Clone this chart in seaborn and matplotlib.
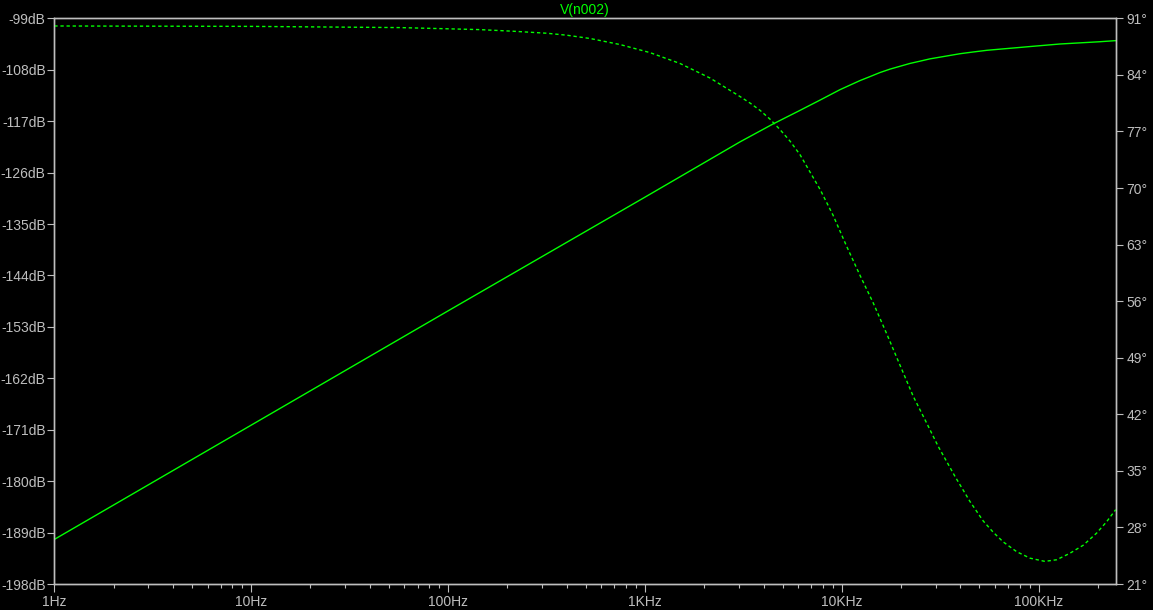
import numpy as np
import pandas as pd
import matplotlib
matplotlib.use("Agg")
import matplotlib.pyplot as plt
import seaborn as sns

# AC sweep of V(n002): magnitude (dB, solid) and phase (deg, dotted)
mag_freq = [1, 10, 100, 1000, 3048, 4467, 6138, 7762, 9772, 10990, 12360, 13900,
            15600, 17540, 19720, 22180, 24950, 28000, 31480, 35400, 39810, 46340,
            54580, 63530, 80170, 93330, 127900, 204200, 247700]
mag_db = [-190.2, -170.2, -150.2, -130.3, -120.6, -117.5, -115.1, -113.3, -111.5,
          -110.7, -109.9, -109.2, -108.5, -107.9, -107.4, -106.9, -106.5, -106.1,
          -105.8, -105.5, -105.2, -104.9, -104.6, -104.4, -104.1, -103.9, -103.5,
          -103.1, -102.9]

ph_freq = [1, 10, 57, 145, 214, 318, 403, 527, 748, 1062, 1510, 2143, 3048, 3423,
           3846, 4325, 4864, 5458, 6138, 7762, 9036, 10570, 12360, 14420, 16870,
           19720, 23070, 26980, 30900, 37580, 44770, 52240, 58740, 66070, 77250,
           90200, 107400, 123300, 143900, 168300, 196800, 221100, 245900]
ph_deg = [90.05, 90.0, 89.85, 89.6, 89.4, 89.15, 88.9, 88.5, 87.75, 86.75, 85.4,
          83.6, 81.3, 80.5, 79.6, 78.5, 77.2, 75.8, 74.1, 69.8, 66.6, 62.8, 59.2,
          55.8, 52.0, 48.1, 44.2, 40.9, 38.0, 34.3, 31.2, 28.8, 27.4, 26.2, 25.0,
          24.2, 23.8, 24.0, 24.8, 25.8, 27.3, 28.7, 30.2]

x_ticks = [1, 10, 100, 1e3, 1e4, 1e5]
x_labels = ["1Hz", "10Hz", "100Hz", "1KHz", "10KHz", "100KHz"]
db_ticks = list(range(-198, -98, 9))
deg_ticks = list(range(21, 92, 7))

sns.set_style("ticks")
plt.rcParams['font.family'] = ['Liberation Sans', 'DejaVu Sans']

grey = "#bebebe"
green = "#00ff00"

fig = plt.figure(figsize=(11.53, 6.10), dpi=100, facecolor="black")
ax = fig.add_axes([54.3/1153, 26/610, 1062/1153, 565.7/610])
ax.set_facecolor("black")

mag = pd.DataFrame({"f": mag_freq, "db": mag_db})
sns.lineplot(data=mag, x="f", y="db", ax=ax, color=green, linewidth=1.0)

ax2 = ax.twinx()
ph = pd.DataFrame({"f": ph_freq, "deg": ph_deg})
sns.lineplot(data=ph, x="f", y="deg", ax=ax2, color=green, linewidth=1.0,
             linestyle=(0, (2.4, 2.0)))

ax.set_xscale("log")
ax.set_xlim(1, 247700)
ax.set_ylim(-198, -99)
ax2.set_ylim(21, 91)

ax.set_xticks(x_ticks)
ax.set_xticklabels(x_labels)
ax.xaxis.set_minor_locator(matplotlib.ticker.LogLocator(base=10, subs=np.arange(2, 10)))
ax.xaxis.set_minor_formatter(matplotlib.ticker.NullFormatter())
ax.set_yticks(db_ticks)
ax.set_yticklabels([f"{v}dB" for v in db_ticks])
ax2.set_yticks(deg_ticks)
ax2.set_yticklabels([f"{v}°" for v in deg_ticks])

ax.set_xlabel("")
ax.set_ylabel("")
ax2.set_ylabel("")

for a in (ax, ax2):
    for s in a.spines.values():
        s.set_color(grey)
        s.set_linewidth(1.0)
ax.tick_params(axis="x", which="major", colors=grey, length=5.8, width=0.8,
               labelsize=10, pad=2, direction="out")
ax.tick_params(axis="x", which="minor", colors=grey, length=3.1, width=0.8, direction="out")
ax.tick_params(axis="y", colors=grey, length=4.7, width=0.8, labelsize=10, pad=1.5,
               direction="out")
ax2.tick_params(axis="y", colors=grey, length=5.0, width=0.8, labelsize=10, pad=2.5,
                direction="out")

ax.set_title("V(n002)", color=green, fontsize=10, pad=3)

fig.savefig("out.png", dpi=100, facecolor="black")
